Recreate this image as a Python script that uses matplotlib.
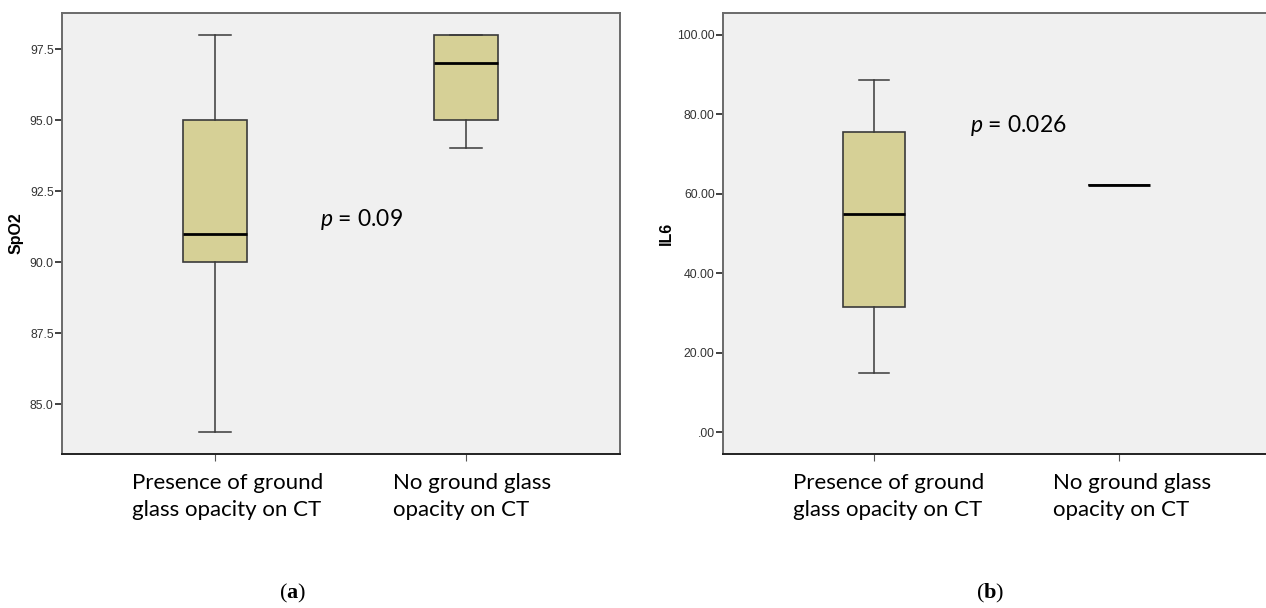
import matplotlib.pyplot as plt

# data
groups = ['Presence of ground\nglass opacity on CT', 'No ground glass\nopacity on CT']

# (a) SpO2
spo2_whislo = [84, 94]
spo2_q1 = [90, 95]
spo2_med = [91, 97]
spo2_q3 = [95, 98]
spo2_whishi = [98, 98]

# (b) IL6
il6_whislo = [14.8, 62.3]
il6_q1 = [31.4, 62.3]
il6_med = [55.0, 62.3]
il6_q3 = [75.6, 62.3]
il6_whishi = [88.7, 62.3]

box_fill = '#d6d096'
edge = '#3a3a3a'

plt.rcParams['mathtext.fontset'] = 'custom'
plt.rcParams['mathtext.it'] = 'Lato:italic'
plt.rcParams['mathtext.bf'] = 'Liberation Serif:bold'
plt.rcParams['mathtext.rm'] = 'Liberation Serif'


def make_stats(lo, q1, med, q3, hi):
    stats = []
    for i in range(len(med)):
        stats.append({'whislo': lo[i], 'q1': q1[i], 'med': med[i],
                      'q3': q3[i], 'whishi': hi[i], 'fliers': []})
    return stats


def draw_panel(ax, stats, ylim, yticks, ylabels, ylabel, xlim, label_x, label_dx):
    ax.set_facecolor('#f0f0f0')
    ax.bxp(stats, positions=[1, 2], widths=0.255, patch_artist=True,
           showfliers=False,
           boxprops=dict(facecolor=box_fill, edgecolor=edge, linewidth=1.2),
           medianprops=dict(color='black', linewidth=2),
           whiskerprops=dict(color=edge, linewidth=1.1),
           capprops=dict(color=edge, linewidth=1.1),
           capwidths=0.125)
    ax.set_xlim(*xlim)
    ax.set_ylim(*ylim)
    ax.set_yticks(yticks)
    ax.set_yticklabels(ylabels, fontsize=8.8, color='#333333', family='Liberation Sans')
    ax.set_xticks([1, 2])
    ax.set_xticklabels([])
    # category labels, left aligned, offset from the tick (pixels -> points)
    for pos, name, dx in zip([1, 2], groups, label_dx):
        ax.annotate(name, xy=(pos, 0), xycoords=('data', 'axes fraction'),
                    xytext=(dx * 0.72, -13.5), textcoords='offset points',
                    ha='left', va='top', multialignment='left',
                    fontsize=16, family='Lato', linespacing=1.45)
    ax.tick_params(axis='y', length=5, width=1.3, color='#333333', pad=1)
    ax.tick_params(axis='x', length=5, width=0.8, color='#555555')
    ax.set_ylabel(ylabel, fontsize=11.5, fontweight='bold', family='Liberation Sans')
    ax.yaxis.set_label_coords(label_x, 0.5)
    for s in ax.spines.values():
        s.set_color('#6a6a6a')
        s.set_linewidth(1.4)
    ax.spines['bottom'].set_color('#222222')


fig = plt.figure(figsize=(12.66, 6.08), dpi=100)

ax1 = fig.add_axes([62 / 1266, 1 - 454 / 608, 558 / 1266, 441 / 608])
draw_panel(ax1, make_stats(spo2_whislo, spo2_q1, spo2_med, spo2_q3, spo2_whishi),
           (83.24, 98.77), [85, 87.5, 90, 92.5, 95, 97.5],
           ['85.0', '87.5', '90.0', '92.5', '95.0', '97.5'], 'SpO2', (0.39, 2.614),
           -0.0695, [-83, -73])
ax1.text(1.42, 91.5, '$p$ = 0.09', fontsize=16.5, family='Lato', va='center')

ax2 = fig.add_axes([723 / 1266, 1 - 454 / 608, 547 / 1266, 441 / 608])
draw_panel(ax2, make_stats(il6_whislo, il6_q1, il6_med, il6_q3, il6_whishi),
           (-5.5, 105.5), [0, 20, 40, 60, 80, 100],
           ['.00', '20.00', '40.00', '60.00', '80.00', '100.00'], 'IL6', (0.384, 2.616),
           -0.0894, [-81, -66])
ax2.text(1.39, 77.2, '$p$ = 0.026', fontsize=16.5, family='Lato', va='center')

fig.text(293 / 1266, 1 - 593 / 608, r'($\mathbf{a}$)', fontsize=16,
         family='Liberation Serif', ha='center', va='center')
fig.text(990 / 1266, 1 - 593 / 608, r'($\mathbf{b}$)', fontsize=16,
         family='Liberation Serif', ha='center', va='center')

fig.savefig('out.png', dpi=100)
